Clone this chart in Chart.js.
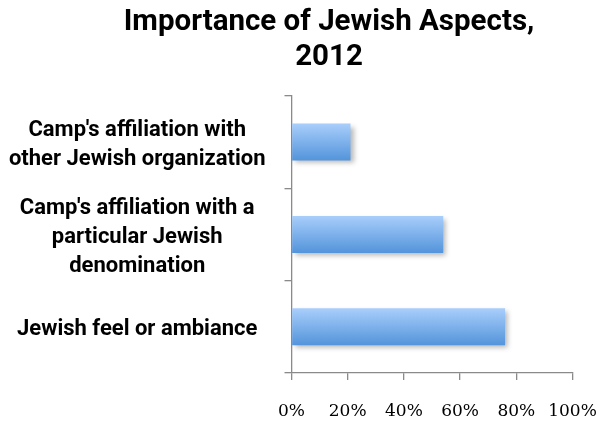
<!DOCTYPE html>
<html lang="en">
<head>
<meta charset="UTF-8">
<title>Importance of Jewish Aspects, 2012</title>
<script src="https://cdn.jsdelivr.net/npm/chart.js"></script>
<style>
  html, body { margin: 0; padding: 0; background: #fff; }
  #wrap { width: 602px; height: 423px; }
</style>
</head>
<body>
<div id="wrap"><canvas id="chart" width="602" height="423"></canvas></div>
<script>
  // aspects, top to bottom
  const aspects = [
    ["Camp's affiliation with", "other Jewish organization"],
    ["Camp's affiliation with a", "particular Jewish", "denomination"],
    ["Jewish feel or ambiance"]
  ];
  const shares = [21, 54, 76];          // percent of respondents
  const pctTicks = [0, 20, 40, 60, 80, 100];

  const sans = "Roboto, 'Liberation Sans', sans-serif";

  // light-to-dark blue fill, one gradient per bar
  function barFill(ctx) {
    const chart = ctx.chart;
    if (!chart.chartArea) return '#7fb0ec';
    const y = chart.scales.y;
    const mid = y.getPixelForValue(ctx.dataIndex);
    const half = y.height / aspects.length * 0.4 / 2;
    const g = chart.ctx.createLinearGradient(0, mid - half, 0, mid + half);
    g.addColorStop(0, '#a9cefb');
    g.addColorStop(1, '#5394db');
    return g;
  }

  const barShadow = {
    id: 'barShadow',
    beforeDatasetsDraw(chart) {
      const c = chart.ctx;
      c.save();
      c.shadowColor = 'rgba(0,0,0,0.28)';
      c.shadowBlur = 5;
      c.shadowOffsetX = 3;
      c.shadowOffsetY = 3;
    },
    afterDatasetsDraw(chart) { chart.ctx.restore(); }
  };

  // the title sits a bit right of the page centre
  const titleSpan = {
    id: 'titleSpan',
    afterLayout(chart) {
      const t = chart.titleBlock;
      if (t) { t.left = 56; t.right = 602; }
    }
  };

  new Chart(document.getElementById('chart'), {
    type: 'bar',
    data: {
      labels: aspects,
      datasets: [{
        data: shares,
        backgroundColor: barFill,
        borderWidth: 0,
        barPercentage: 0.8,
        categoryPercentage: 0.5
      }]
    },
    plugins: [barShadow, titleSpan],
    options: {
      indexAxis: 'y',
      responsive: false,
      animation: false,
      layout: { padding: { left: 0, right: 29.5, top: 0, bottom: 0 } },
      plugins: {
        legend: { display: false },
        tooltip: { enabled: false },
        title: {
          display: true,
          text: ['Importance of Jewish Aspects,', '2012'],
          color: '#000',
          font: { family: sans, size: 29.5, weight: 'bold', lineHeight: 1.2 },
          padding: { top: 5, bottom: 20 }
        }
      },
      scales: {
        x: {
          min: 0, max: 100,
          afterBuildTicks: s => { s.ticks = pctTicks.map(v => ({ value: v })); },
          afterFit: s => { s.height = 50; s.paddingLeft = 0; s.paddingRight = 0; },
          border: { color: '#8a8a8a', width: 1.3 },
          grid: { drawOnChartArea: false, drawTicks: true, tickLength: 7, color: '#8a8a8a', lineWidth: 1.3 },
          ticks: {
            callback: v => v + '%',
            color: '#000',
            padding: 21,
            maxRotation: 0,
            font: { family: "'DejaVu Serif', 'Liberation Serif', serif", size: 17 }
          }
        },
        y: {
          afterFit: s => { s.width = 291.5; },
          border: { color: '#8a8a8a', width: 1.3 },
          grid: { drawOnChartArea: false, drawTicks: true, tickLength: 7, color: '#8a8a8a', lineWidth: 1.3 },
          ticks: {
            color: '#000',
            crossAlign: 'center',
            padding: 19,
            labelOffset: 3,
            font: { family: sans, size: 22, weight: 'bold', lineHeight: 1.3 }
          }
        }
      }
    }
  });
</script>
</body>
</html>
